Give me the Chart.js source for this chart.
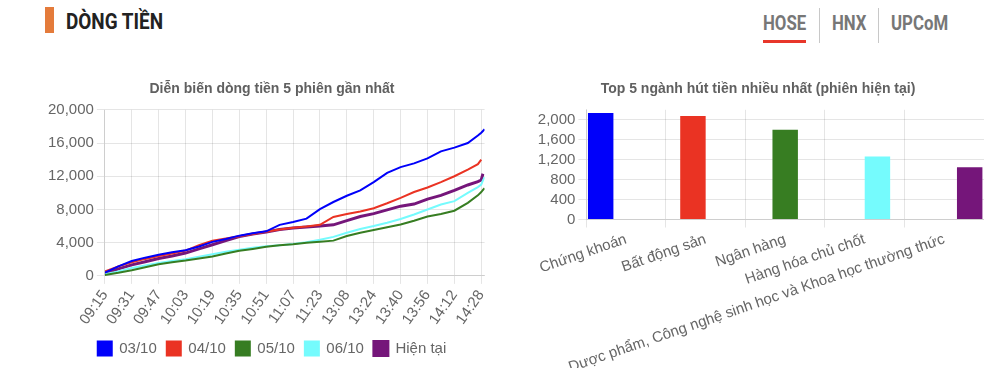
<!DOCTYPE html>
<html>
<head>
<meta charset="utf-8">
<script src="https://cdn.jsdelivr.net/npm/chart.js@4"></script>
<style>
  html, body { margin: 0; padding: 0; background: #fff; }
  body { width: 1000px; height: 384px; position: relative; overflow: hidden; font-family: Roboto, sans-serif; }
  .bar-mark { position: absolute; left: 45px; top: 7px; width: 9px; height: 26px; background: #e47b3b; }
  .heading { position: absolute; left: 66px; top: 11px; font-size: 22px; line-height: 22px; font-weight: 700; color: #222;
             transform: scaleX(0.86); transform-origin: left top; white-space: nowrap; }
  .tab { position: absolute; top: 13px; font-size: 20px; line-height: 20px; font-weight: 700; color: #777;
         transform: scaleX(0.84); transform-origin: left top; white-space: nowrap; }
  .sep { position: absolute; top: 8px; width: 1px; height: 35px; background: #c8c8c8; }
  .underline { position: absolute; left: 763px; top: 40px; width: 43px; height: 3px; background: #e8362a; }
  .box { position: absolute; }
</style>
</head>
<body>
<div class="bar-mark"></div>
<div class="heading">DÒNG TIỀN</div>
<div class="tab" style="left:763px">HOSE</div>
<div class="sep" style="left:819px"></div>
<div class="tab" style="left:832px">HNX</div>
<div class="sep" style="left:878px"></div>
<div class="tab" style="left:891px">UPCoM</div>
<div class="underline"></div>

<div class="box" style="left:45px; top:71px; width:454px; height:295px;"><canvas id="flowChart"></canvas></div>
<div class="box" style="left:532px; top:71px; width:452px; height:297px;"><canvas id="sectorChart"></canvas></div>

<script>
// minute index since 09:15 (lunch break skipped), one label every 16 minutes
const timeLabels = ['09:15', '09:31', '09:47', '10:03', '10:19', '10:35', '10:51', '11:07',
                    '11:23', '13:08', '13:24', '13:40', '13:56', '14:12', '14:28'];
const sampleX = [0, 8, 16, 24, 32, 40, 48, 56, 64, 72, 80, 88, 96, 104, 112, 120, 128, 136,
                 144, 152, 160, 168, 176, 184, 192, 200, 208, 216, 222, 224, 225, 226];

const flow0310 = [400, 1150, 1800, 2200, 2550, 2850, 3100, 3550, 4100, 4450, 4850, 5130, 5370, 6150, 6500, 6900,
                  8050, 8900, 9650, 10300, 11300, 12400, 13100, 13550, 14150, 15000, 15450, 16000, 16900, 17250, 17450, 17650];
const flow0410 = [550, 1150, 1650, 2050, 2400, 2700, 3050, 3700, 4250, 4500, 4780, 5050, 5330, 5600, 5800, 5950,
                  6150, 7100, 7450, 7750, 8150, 8750, 9400, 10100, 10650, 11300, 12000, 12800, 13450, 14000, null, null];
const flow0510 = [120, 380, 690, 1050, 1410, 1650, 1850, 2100, 2350, 2700, 3030, 3250, 3500, 3680, 3820, 4000,
                  4120, 4250, 4800, 5200, 5530, 5850, 6200, 6650, 7150, 7450, 7850, 8800, 9700, 10100, 10350, 10550];
const flow0610 = [200, 550, 950, 1250, 1550, 1800, 2000, 2300, 2600, 2900, 3150, 3400, 3580, 3700, 3850, 4050,
                  4350, 4700, 5200, 5650, 6000, 6400, 6850, 7400, 8000, 8600, 9000, 10000, 10700, 11000, 11500, 11900];
const flowNow  = [320, 850, 1330, 1700, 2100, 2400, 2750, 3250, 3750, 4250, 4730, 5050, 5300, 5580, 5780, 5900,
                  6000, 6150, 6650, 7150, 7500, 7950, 8400, 8650, 9250, 9700, 10300, 10950, 11350, 11550, 12300, null];

const sessionNames = ['03/10', '04/10', '05/10', '06/10', 'Hiện tại'];
const sessionColors = ['rgb(0,0,250)', 'rgb(234,51,35)', 'rgb(55,125,34)', 'rgb(117,251,253)', 'rgb(117,22,122)'];

const sectorLabels = ['Chứng khoán', 'Bất động sản', 'Ngân hàng', 'Hàng hóa chủ chốt',
                      'Dược phẩm, Công nghệ sinh học và Khoa học thường thức'];
const sectorValues = [2135, 2075, 1800, 1265, 1050];

const FONT = 'Liberation Sans, Arial, Helvetica, sans-serif';
Chart.defaults.font.family = FONT;
Chart.defaults.font.size = 15;
Chart.defaults.color = '#666';

function toPoints(values) {
    return sampleX.map((x, i) => ({ x: x, y: values[i] }));
}

const flowSeries = [flow0310, flow0410, flow0510, flow0610, flowNow];

new Chart(document.getElementById('flowChart'), {
    type: 'line',
    data: {
        datasets: flowSeries.map((vals, i) => ({
            label: sessionNames[i],
            data: toPoints(vals),
            borderColor: sessionColors[i],
            backgroundColor: sessionColors[i],
            borderWidth: i === 4 ? 3 : 2,
            pointRadius: 0,
            tension: 0,
            fill: false
        }))
    },
    options: {
        animation: false,
        responsive: true,
        maintainAspectRatio: false,
        plugins: {
            title: {
                display: true,
                text: 'Diễn biến dòng tiền 5 phiên gần nhất',
                font: { size: 14, weight: 'bold' },
                color: '#606060',
                padding: { top: 10, bottom: 12 }
            },
            legend: {
                position: 'bottom',
                labels: { boxWidth: 14, boxHeight: 14, padding: 10 }
            },
            tooltip: { enabled: false }
        },
        scales: {
            x: {
                type: 'linear',
                min: 0,
                max: 226,
                afterBuildTicks: axis => {
                    axis.ticks = timeLabels.map((t, i) => ({ value: i * 16 }));
                },
                ticks: {
                    autoSkip: false,
                    minRotation: 55,
                    maxRotation: 55,
                    callback: v => timeLabels[Math.round(v / 16)]
                },
                grid: { color: 'rgba(0,0,0,0.1)' }
            },
            y: {
                min: 0,
                max: 20000,
                ticks: { stepSize: 4000 },
                grid: { color: 'rgba(0,0,0,0.1)' }
            }
        }
    }
});

new Chart(document.getElementById('sectorChart'), {
    type: 'bar',
    data: {
        labels: sectorLabels,
        // one dataset per sector so each bar keeps its own colour and slot
        datasets: sectorValues.map((v, i) => ({
            label: sectorLabels[i],
            data: sectorValues.map((_, j) => (j === i ? v : null)),
            backgroundColor: sessionColors[i],
            borderColor: sessionColors[i],
            borderWidth: 0,
            barPercentage: 2,
            categoryPercentage: 0.8
        }))
    },
    options: {
        animation: false,
        responsive: true,
        maintainAspectRatio: false,
        plugins: {
            title: {
                display: true,
                text: 'Top 5 ngành hút tiền nhiều nhất (phiên hiện tại)',
                font: { size: 14, weight: 'bold' },
                color: '#606060',
                padding: { top: 10, bottom: 12 }
            },
            legend: { display: false },
            tooltip: { enabled: false }
        },
        scales: {
            x: {
                ticks: { autoSkip: false, minRotation: 19, maxRotation: 19 },
                grid: { color: 'rgba(0,0,0,0.1)' }
            },
            y: {
                min: 0,
                max: 2200,
                ticks: { stepSize: 400, includeBounds: false },
                grid: { color: 'rgba(0,0,0,0.1)' }
            }
        }
    }
});
</script>
</body>
</html>
